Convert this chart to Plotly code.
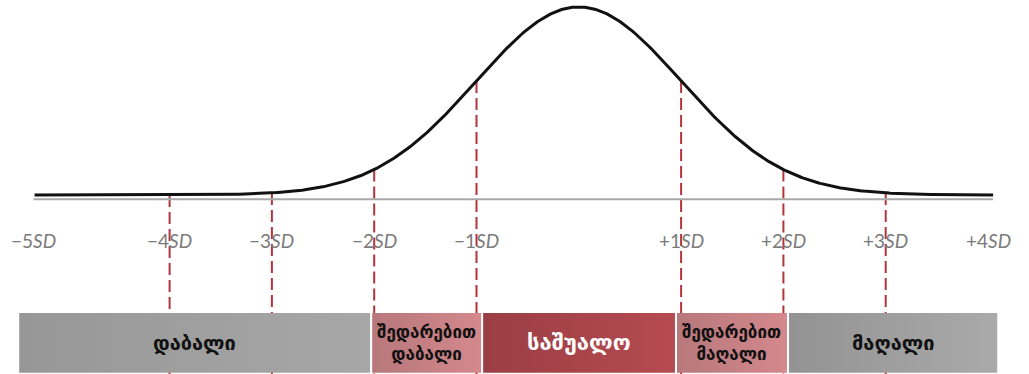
import numpy as np
import plotly.graph_objects as go

# Tick labels along the SD axis (position in SD units)
tick_pos = [-5.33, -4, -3, -2, -1, 1, 2, 3, 4]
tick_text = ["−5", "−4", "−3", "−2", "−1", "+1", "+2", "+3", "+4"]

# Dashed cut lines
cut_pos = [-4, -3, -2, -1, 1, 2, 3]

# Category bands under the curve
band_start = [-5.47, -2.02, -0.935, 0.96, 2.055]
band_end = [-2.04, -0.955, 0.94, 2.035, 4.09]
band_labels = ["დაბალი", "შედარებით<br>დაბალი", "საშუალო", "შედარებით<br>მაღალი", "მაღალი"]
band_left_color = ["#979797", "#b7787c", "#9b3e44", "#b7787c", "#939393"]
band_right_color = ["#a7a7a7", "#d4888c", "#b54b51", "#d4888c", "#aaaaaa"]
band_text_color = ["#111111", "#111111", "#ffffff", "#111111", "#111111"]
band_font_size = [20, 17, 22, 17, 20]

# Curve range
x_min, x_max = -5.32, 4.05

# Normal curve (peak scaled to 1)
x = np.linspace(x_min, x_max, 600)
y = np.exp(-x ** 2 / 2)

fig = go.Figure()

box_top, box_bottom = -0.628, -0.945

# Dashed lines from the curve down
for c in cut_pos:
    fig.add_trace(go.Scatter(
        x=[c, c], y=[np.exp(-c ** 2 / 2), -1.2],
        mode="lines", line=dict(color="#b3353b", width=2, dash="12px,5px"),
        hoverinfo="skip", showlegend=False,
    ))

# Gray baseline
fig.add_trace(go.Scatter(
    x=[-5.33, x_max], y=[-0.022, -0.022], mode="lines",
    line=dict(color="#a8a8a8", width=2), hoverinfo="skip", showlegend=False,
))

# Curve
fig.add_trace(go.Scatter(
    x=x, y=y, mode="lines", line=dict(color="#111111", width=3),
    hoverinfo="skip", showlegend=False,
))

# Band boxes with horizontal gradient, drawn over the dashed lines
for i in range(len(band_start)):
    fig.add_trace(go.Scatter(
        x=[band_start[i], band_end[i], band_end[i], band_start[i], band_start[i]],
        y=[box_top, box_top, box_bottom, box_bottom, box_top],
        mode="lines", line=dict(width=0), fill="toself",
        fillgradient=dict(type="horizontal",
                          colorscale=[[0, band_left_color[i]], [1, band_right_color[i]]]),
        hoverinfo="skip", showlegend=False,
    ))
    fig.add_annotation(
        x=(band_start[i] + band_end[i]) / 2, y=(box_top + box_bottom) / 2,
        text="<b>" + band_labels[i].replace("<br>", "</b><br><b>") + "</b>",
        showarrow=False,
        font=dict(family="DejaVu Sans", size=band_font_size[i], color=band_text_color[i]),
    )

# SD tick labels
for p, t in zip(tick_pos, tick_text):
    fig.add_annotation(
        x=p, y=-0.24, text=t + "<i>SD</i>", showarrow=False,
        font=dict(family="Lato", size=19, color="#7a7a7a"),
    )

fig.update_layout(
    width=1029, height=374,
    margin=dict(l=0, r=0, t=0, b=0),
    paper_bgcolor="white", plot_bgcolor="white",
    xaxis=dict(range=[-578.8 / 102.3, 450.2 / 102.3], visible=False, fixedrange=True),
    yaxis=dict(range=[-0.952, 1.037], visible=False, fixedrange=True),
)

fig.write_html("out.html", config={"displayModeBar": False},
               post_script="document.body.style.margin='0';")
